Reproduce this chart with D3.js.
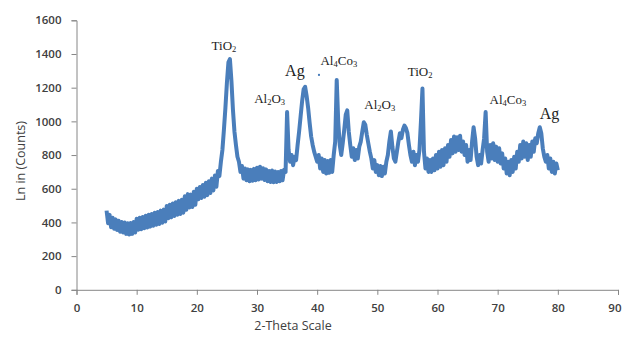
<!DOCTYPE html>
<html>
<head>
<meta charset="utf-8">
<script src="https://cdn.jsdelivr.net/npm/d3@7"></script>
<style>
  body { margin: 0; background: #fff; }
  svg { display: block; }
</style>
</head>
<body>
<svg id="chart" width="622" height="339"></svg>
<script>
// scan: 2-theta from 5 to 80 deg, step 0.25
const thetaStart = 5;
const thetaStep = 0.25;

// counts, one row per 5 degrees
const counts = [
  470, 395, 445, 372, 428, 362, 418, 355, 410, 345, 402, 340, 400, 332, 395, 328, 396, 332, 402, 340,
  422, 356, 428, 360, 432, 365, 440, 370, 445, 375, 450, 380, 458, 386, 462, 390, 470, 398, 476, 405,
  498, 425, 505, 430, 512, 438, 520, 445, 528, 450, 535, 458, 555, 475, 568, 488, 565, 492, 582, 505,
  600, 538, 610, 545, 622, 552, 635, 562, 645, 575, 660, 590, 678, 612, 705, 675, 760, 830, 950, 1080,
  1230, 1350, 1370, 1240, 1070, 940, 860, 790, 760, 700, 735, 660, 720, 650, 715, 645, 712, 648, 718, 650,
  725, 655, 730, 660, 722, 652, 715, 645, 705, 640, 708, 638, 702, 640, 700, 645, 705, 650, 712, 700,
  1055, 830, 760, 800, 740, 790, 770, 860, 940, 1030, 1120, 1190, 1205, 1150, 1080, 990, 910, 860, 820, 790,
  760, 800, 720, 780, 700, 770, 690, 765, 695, 770, 700, 800, 880, 1245, 1000, 860, 800, 870, 950, 1040,
  1065, 940, 860, 790, 840, 770, 830, 780, 850, 880, 940, 995, 980, 920, 870, 820, 780, 720, 770, 700,
  740, 680, 735, 675, 730, 690, 760, 800, 880, 940, 850, 780, 760, 820, 880, 930, 900, 950, 975, 960,
  930, 860, 800, 760, 820, 740, 800, 760, 830, 1000, 1195, 820, 720, 780, 700, 770, 700, 780, 710, 800,
  720, 820, 730, 830, 740, 840, 760, 860, 790, 890, 810, 910, 820, 905, 830, 915, 820, 880, 800, 860,
  760, 830, 770, 880, 965, 900, 790, 740, 800, 750, 830, 900, 1055, 820, 760, 860, 780, 870, 770, 850,
  760, 840, 750, 810, 720, 780, 690, 760, 680, 770, 700, 790, 720, 820, 760, 860, 780, 880, 790, 870,
  770, 860, 790, 880, 820, 900, 870, 930, 965, 930, 840, 790, 760, 800, 720, 780, 700, 760, 690, 750, 710
];

const xTicks = [0, 10, 20, 30, 40, 50, 60, 70, 80, 90];
const yTicks = [0, 200, 400, 600, 800, 1000, 1200, 1400, 1600];

// peak labels and where they sit (2-theta, counts)
const peakNames = ["TiO2", "Ag", "Al2O3", "Al4Co3", "Al2O3", "TiO2", "Al4Co3", "Ag"];
const peakTheta = [24.5, 36.3, 32.1, 43.6, 50.4, 57.1, 71.7, 78.6];
const peakCount = [1412, 1258, 1097, 1323, 1062, 1258, 1091, 1002];

const svg = d3.select("#chart");
const x = d3.scaleLinear().domain([0, 90]).range([76.5, 618]);
const y = d3.scaleLinear().domain([0, 1600]).range([289.8, 20.3]);

const axisColor = "#868686";
const labelFont = "'Open Sans', sans-serif";

// y axis
const gy = svg.append("g")
  .attr("transform", "translate(" + x(0) + ",0)")
  .call(d3.axisLeft(y).tickValues(yTicks).tickSize(5).tickPadding(10).tickFormat(d3.format("d")));
gy.select(".domain").attr("stroke", axisColor);
gy.selectAll(".tick line").attr("stroke", axisColor);
gy.selectAll(".tick text")
  .attr("fill", "#404040")
  .style("font-family", labelFont)
  .style("font-size", "11.5px")
  .style("font-weight", "600");

// x axis
const gx = svg.append("g")
  .attr("transform", "translate(0," + y(0) + ")")
  .call(d3.axisBottom(x).tickValues(xTicks).tickSize(5).tickPadding(9));
gx.select(".domain").attr("stroke", axisColor);
gx.selectAll(".tick line").attr("stroke", axisColor);
gx.selectAll(".tick text")
  .attr("fill", "#404040")
  .style("font-family", labelFont)
  .style("font-size", "11.5px")
  .style("font-weight", "600");
// last label sits against the right edge
gx.selectAll(".tick text").filter(function (d) { return d === 90; })
  .attr("text-anchor", "end")
  .attr("dx", 3);

// axis titles
svg.append("text")
  .attr("x", 293)
  .attr("y", 330)
  .attr("text-anchor", "middle")
  .attr("fill", "#404040")
  .style("font-family", labelFont)
  .style("font-size", "12.5px")
  .text("2-Theta Scale");

svg.append("text")
  .attr("transform", "translate(25,161) rotate(-90)")
  .attr("text-anchor", "middle")
  .attr("fill", "#404040")
  .style("font-family", labelFont)
  .style("font-size", "12.5px")
  .text("Ln in (Counts)");

// pattern
const line = d3.line()
  .x(function (d, i) { return x(thetaStart + i * thetaStep); })
  .y(function (d) { return y(d); });

svg.append("path")
  .datum(counts)
  .attr("fill", "none")
  .attr("stroke", "#4a7ebb")
  .attr("stroke-width", 4)
  .attr("stroke-linejoin", "round")
  .attr("d", line);

// stray dot near the Al4Co3 label
svg.append("rect")
  .attr("x", x(40.3) - 1)
  .attr("y", y(1276) - 1)
  .attr("width", 2)
  .attr("height", 2)
  .attr("fill", "#4a7ebb");

// peak labels with subscript digits
peakNames.forEach(function (name, i) {
  const big = name === "Ag";
  const t = svg.append("text")
    .attr("x", x(peakTheta[i]))
    .attr("y", y(peakCount[i]))
    .attr("text-anchor", "middle")
    .attr("fill", "#222")
    .style("font-family", "'Liberation Serif', 'Times New Roman', serif")
    .style("font-size", big ? "16px" : "13px");
  name.match(/[A-Za-z]+|\d/g).forEach(function (part) {
    if (/\d/.test(part)) {
      t.append("tspan").attr("dy", 2).style("font-size", "8.5px").text(part);
    } else {
      t.append("tspan").attr("dy", t.selectAll("tspan").size() ? -2 : 0).text(part);
    }
  });
});
</script>
</body>
</html>
